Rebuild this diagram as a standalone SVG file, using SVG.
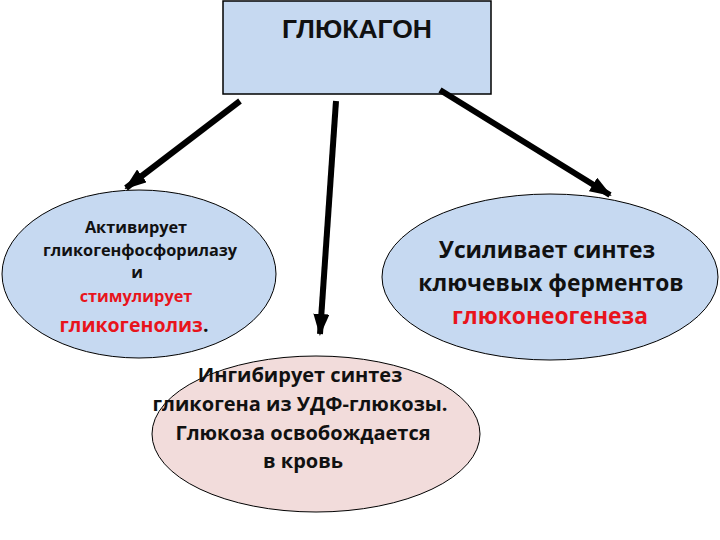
<svg xmlns="http://www.w3.org/2000/svg" width="720" height="540" viewBox="0 0 720 540">
<style>
.box{fill:#c6d9f1;stroke:#000;stroke-width:1.5}
.blue{fill:#c6d9f1;stroke:#000;stroke-width:1}
.pink{fill:#f2dcdb;stroke:#000;stroke-width:1}
.t{font-family:"Open Sans","Liberation Sans",sans-serif;font-weight:bold;fill:#111;text-anchor:middle}
.title{font-family:"Liberation Sans",Arial,sans-serif;font-weight:bold;fill:#111;text-anchor:middle;font-size:26.5px}
.red{fill:#e8141c}
.arr{stroke:#000;stroke-width:6;fill:none}
</style>
<defs>
<marker id="ah" viewBox="0 0 22 16" refX="20" refY="8" markerWidth="22" markerHeight="16" markerUnits="userSpaceOnUse" orient="auto">
<path d="M0,0 L22,8 L0,16 Z" fill="#000"/>
</marker>
</defs>
<g id="glucagon">
<rect class="box" x="223" y="1" width="268" height="93"/>
<text class="title" x="357" y="38">ГЛЮКАГОН</text>
</g>
<g id="connectors">
<line class="arr" x1="240" y1="101" x2="126" y2="188" marker-end="url(#ah)"/>
<line class="arr" x1="336" y1="101" x2="320" y2="334" marker-end="url(#ah)"/>
<line class="arr" x1="440" y1="90" x2="610" y2="195" marker-end="url(#ah)"/>
</g>
<g id="left">
<ellipse class="blue" cx="139" cy="274" rx="137" ry="84"/>
<text class="t" x="136" y="233" font-size="16.3">Активирует</text>
<text class="t" x="140" y="256" font-size="16.3">гликогенфосфорилазу</text>
<text class="t" x="137" y="278" font-size="16.3">и</text>
<text class="t red" x="136" y="302" font-size="16.3">стимулирует</text>
<text class="t" x="134" y="332" font-size="19.5"><tspan class="red">гликогенолиз</tspan>.</text>
</g>
<g id="right">
<ellipse class="blue" cx="550" cy="277" rx="168" ry="83"/>
<text class="t" x="547" y="258" font-size="22.8">Усиливает синтез</text>
<text class="t" x="551" y="291" font-size="22.8">ключевых ферментов</text>
<text class="t red" x="550" y="324" font-size="22.8">глюконеогенеза</text>
</g>
<g id="bottom">
<ellipse class="pink" cx="316" cy="434" rx="164" ry="78"/>
<text class="t" x="300" y="382" font-size="20">Ингибирует синтез</text>
<text class="t" x="300" y="411" font-size="20">гликогена из УДФ-глюкозы.</text>
<text class="t" x="303" y="440" font-size="20">Глюкоза освобождается</text>
<text class="t" x="303" y="468" font-size="20">в кровь</text>
</g>
</svg>
